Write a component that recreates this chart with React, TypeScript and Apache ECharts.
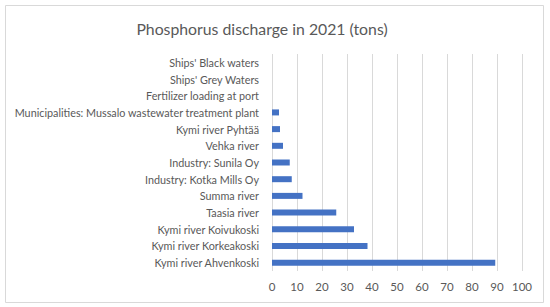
import React, { useEffect, useRef } from "react";
import * as echarts from "echarts";

const categories = [
  "Kymi river Ahvenkoski",
  "Kymi river Korkeakoski",
  "Kymi river Koivukoski",
  "Taasia river",
  "Summa river",
  "Industry: Kotka Mills Oy",
  "Industry: Sunila Oy",
  "Vehka river",
  "Kymi river Pyhtää",
  "Municipalities: Mussalo wastewater treatment plant",
  "Fertilizer loading at port",
  "Ships' Grey Waters",
  "Ships' Black waters",
];
const values = [89.3, 38.2, 32.8, 25.7, 12.2, 7.9, 7.1, 4.4, 3.2, 2.8, 0, 0, 0];
const title = "Phosphorus discharge in 2021 (tons)";

export default function App() {
  const ref = useRef<HTMLDivElement>(null);
  useEffect(() => {
    if (!ref.current) return;
    const chart = echarts.init(ref.current, undefined, { renderer: "svg" });
    const font = "Lato, Open Sans, sans-serif";
    chart.setOption({
      animation: false,
      backgroundColor: "#ffffff",
      title: {
        text: title,
        left: 257,
        textAlign: "center",
        top: 15,
        textStyle: { fontFamily: font, fontSize: 15.8, fontWeight: "normal", color: "#595959" },
      },
      graphic: [
        {
          type: "rect",
          shape: { x: 5.5, y: 5.5, width: 538, height: 297 },
          style: { fill: "none", stroke: "#d9d9d9", lineWidth: 1 },
          silent: true,
        },
      ],
      grid: { left: 272, right: 28, top: 54, bottom: 36, containLabel: false, outerBoundsMode: "none" },
      xAxis: {
        type: "value",
        min: 0,
        max: 100,
        interval: 10,
        axisLine: { show: false },
        axisTick: { show: false },
        splitLine: { show: true, lineStyle: { color: "#d9d9d9", width: 1 } },
        axisLabel: { color: "#595959", fontFamily: font, fontSize: 11.5, margin: 9 },
      },
      yAxis: {
        type: "category",
        data: categories,
        axisLine: { show: false },
        axisTick: { show: false },
        axisLabel: { color: "#595959", fontFamily: font, fontSize: 10.8, margin: 13 },
      },
      series: [
        {
          type: "bar",
          data: values,
          barWidth: 6,
          itemStyle: { color: "#4472C4" },
        },
      ],
    });
    return () => chart.dispose();
  }, []);
  return (
    <div
      ref={ref}
      style={{ position: "fixed", left: 0, top: 0, width: 550, height: 307 }}
    />
  );
}
